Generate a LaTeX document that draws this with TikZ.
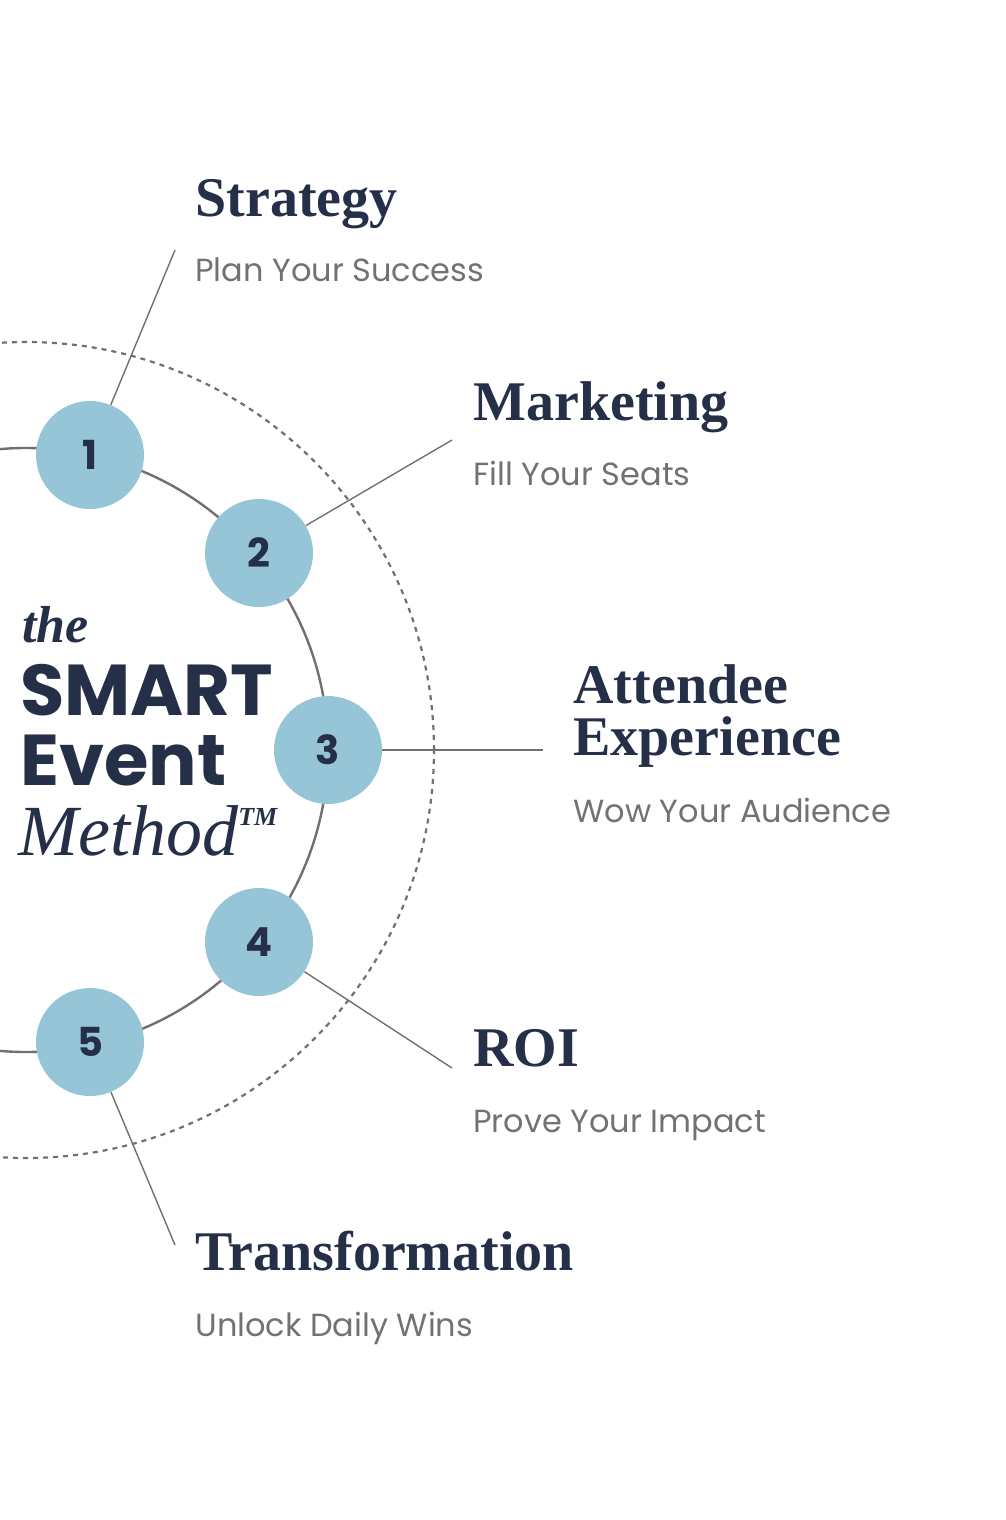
\documentclass[tikz,border=0pt]{standalone}
\usepackage{fontspec}
\setmainfont{Liberation Serif}
\newfontfamily\popfont{Poppins}
\usepackage{tikz}

\definecolor{navy}{HTML}{252F48}
\definecolor{stepblue}{HTML}{97C5D8}
\definecolor{linegray}{HTML}{707070}
\definecolor{subgray}{HTML}{727272}

\tikzset{
  stepnode/.style={circle,fill=stepblue,minimum size=54pt,inner sep=0pt,
    font=\popfont\bfseries\fontsize{20}{20}\selectfont,text=navy},
  title/.style={anchor=base west,inner sep=0pt,text=navy,
    font=\bfseries\fontsize{28}{30}\selectfont},
  sub/.style={anchor=base west,inner sep=0pt,text=subgray,
    font=\popfont\fontsize{16}{18}\selectfont},
  leader/.style={linegray,line width=0.7pt}
}

\begin{document}
\begin{tikzpicture}[x=0.5pt,y=-0.5pt]

	\useasboundingbox (0,0) rectangle (1006,1520);
	
		% rings
		\draw[linegray,line width=1.1pt,dash pattern=on 2.5pt off 2.5pt] (26,750) circle[radius=204pt];
		\draw[linegray,line width=1.2pt] (26,750) circle[radius=151pt];
		
		\node[stepnode] (s1) at (90,455) {1};
		\node[stepnode] (s2) at (259,553) {2};
		\node[stepnode] (s3) at (328,750) {3};
		\node[stepnode] (s4) at (259,942) {4};
		\node[stepnode] (s5) at (90,1042) {5};
		
		\coordinate (e1) at (175,250);
		\coordinate (e2) at (452,440);
		\coordinate (e3) at (543,750);
		\coordinate (e4) at (452,1068);
		\coordinate (e5) at (175,1245);
		
		\draw[leader] (s1) -- (e1);
		\draw[leader] (s2) -- (e2);
		\draw[leader] (s3) -- (e3);
		\draw[leader] (s4) -- (e4);
		\draw[leader] (s5) -- (e5);
		
		\node[title] (t1) at (195,216) {Strategy};
		\node[sub] (u1) at (195,281) {Plan Your Success};
		\node[title] (t2) at (473,420) {Marketing};
		\node[sub] (u2) at (473,485) {Fill Your Seats};
		\node[title] (t3) at (573,703) {Attendee};
		\node[title] (t3b) at (573,755) {Experience};
		\node[sub] (u3) at (573,822) {Wow Your Audience};
		\node[title] (t4) at (473,1066) {ROI};
		\node[sub] (u4) at (473,1132) {Prove Your Impact};
		\node[title] (t5) at (195,1270) {Transformation};
		\node[sub] (u5) at (195,1336) {Unlock Daily Wins};
		
		% method name
		\node[anchor=base west,inner sep=0pt,text=navy,
			font=\itshape\bfseries\fontsize{26}{26}\selectfont] (the) at (22,642) {the};
		\node[anchor=base west,inner sep=0pt,text=navy,
			font=\popfont\bfseries\fontsize{36}{36}\selectfont] (smart) at (20,715) {SMART};
		\node[anchor=base west,inner sep=0pt,text=navy,
			font=\popfont\bfseries\fontsize{36}{36}\selectfont] (event) at (20,785) {Event};
		\node[anchor=base west,inner sep=0pt,text=navy,
			font=\itshape\fontsize{36}{36}\selectfont] (method) at (18,855)
			{Method\raisebox{0.9ex}{\fontsize{13}{13}\selectfont\bfseries TM}};
	\end{tikzpicture}
\end{document}
